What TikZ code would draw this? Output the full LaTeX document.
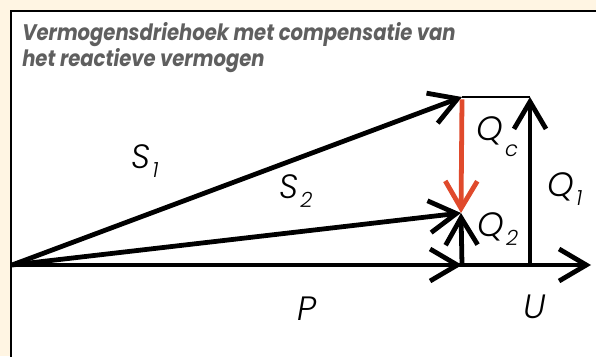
\documentclass[tikz,border=0pt]{standalone}
\usepackage{fontspec}
\setmainfont{Poppins}
\newfontfamily\titlefont{Poppins}[FakeStretch=0.87]
\newfontfamily\labelfont{Poppins}[UprightFont=* Light Italic]
\usetikzlibrary{arrows.meta}
\definecolor{cream}{HTML}{FFF5E3}
\definecolor{titlegray}{HTML}{5F5F5F}
\definecolor{compred}{HTML}{E04A2C}
\newcommand{\vlabel}[3][-6.5pt]{#2\hspace{1.5pt}\raisebox{#1}{\fontsize{15}{15}\selectfont #3}}

\begin{document}
\begin{tikzpicture}[x=0.025cm, y=-0.025cm, >={Straight Barb[length=0.68cm,width=0.8cm]},
    vec/.style={->, line width=3.4pt},
    lbl/.style={font=\fontsize{24}{24}\selectfont\labelfont, inner sep=0pt, anchor=base west}]
    \useasboundingbox (0,0) rectangle (596,356);
    \fill[cream] (0,0) rectangle (596,356);
    \begin{scope}
      \clip (0,0) rectangle (596,356);
      \filldraw[fill=white, draw=black, line width=1.2pt] (11,11) rectangle (610,370);
    \end{scope}
    \node[anchor=base west, align=left, text=titlegray, inner sep=0pt,
          font=\fontsize{16}{17.2}\selectfont\titlefont\bfseries\itshape] (title) at (22,66)
      {Vermogensdriehoek met compensatie van\\het reactieve vermogen};
    % punten van de driehoek
    \coordinate (O) at (12,265);
    \coordinate (A) at (462,265);
    \coordinate (B) at (530,265);
    \coordinate (E) at (591,265);
    \coordinate (S1end) at (462,97);
    \coordinate (Q1end) at (530,97);
    \coordinate (S2end) at (461,213);
    % vectoren
    \draw[line width=3.4pt] (O) -- (B);
    \draw[vec] (O) -- (A);
    \draw[vec] (B) -- (E);
    \draw[vec] (O) -- (S1end);
    \draw[vec] (O) -- (S2end);
    \draw[line width=1.4pt] (S1end) -- (Q1end);
    \draw[vec] (B) -- (Q1end);
    \draw[vec] (A) -- (S2end);
    \draw[vec, compred] ([yshift=-0.06cm]S1end) -- (S2end);
    % labels
    \node[lbl] (s1) at (131,168) {\vlabel{S}{1}};
    \node[lbl] (s2) at (279,198) {\vlabel{S}{2}};
    \node[lbl] (qc) at (476,140) {\vlabel[-12pt]{Q}{c}};
    \node[lbl] (q2) at (477,236) {\vlabel{Q}{2}};
    \node[lbl] (q1) at (547,196) {\vlabel{Q}{1}};
    \node[lbl] (p) at (297,320) {P};
    \node[lbl] (u) at (523,318) {U};
\end{tikzpicture}
\end{document}
